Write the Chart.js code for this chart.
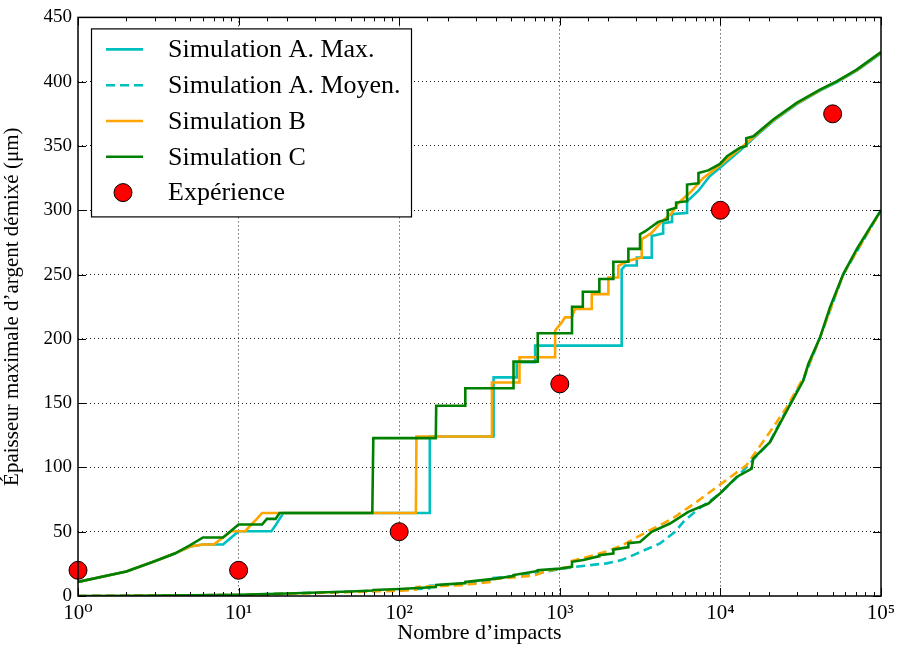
<!DOCTYPE html>
<html>
<head>
<meta charset="utf-8">
<script src="https://cdn.jsdelivr.net/npm/chart.js@4/dist/chart.umd.min.js"></script>
<style>
  html, body { margin: 0; padding: 0; background: #fff; }
  #wrap { width: 897px; height: 648px; }
</style>
</head>
<body>
<div id="wrap"><canvas id="chart" width="897" height="648"></canvas></div>
<script>
// Simulation A, max (cyan solid)
const simAMaxX = [1, 2, 3, 4, 5, 6, 7, 8, 9, 10, 16, 17, 18, 19, 154, 155, 386, 387, 538, 539, 701, 702, 2427, 2428, 2550, 3015, 3016, 3736, 3737, 4400, 4401, 5000, 5001, 6200, 6201, 7280, 8500, 9940, 13250, 16040, 21340, 29850, 41700, 52970, 70600, 100000];
const simAMaxY = [11, 19, 27, 33, 38.5, 40, 40, 40, 45.5, 50.4, 50.4, 55, 60, 64.6, 64.6, 124, 124, 170, 170, 181.8, 181.8, 194.7, 194.7, 254, 257, 257, 263.2, 263.2, 280, 282, 290, 291, 297, 298, 307, 315, 326, 333, 346.5, 356, 369.5, 382.5, 393, 399.5, 408.5, 422];

// Simulation A, mean (cyan dashed)
const simAMeanX = [1, 10, 100, 154, 155, 300, 386, 387, 700, 1000, 1300, 1958, 2427, 3013, 4207, 5213, 5877, 7116, 9030, 10000, 12630, 16000, 20360, 25880, 33000, 41700, 58200, 100000];
const simAMeanY = [0, 0.8, 4.5, 6, 8, 10, 12, 14, 17, 21, 23, 25.4, 27.9, 33, 40.9, 49.9, 57.6, 66.7, 75.8, 80, 92, 106, 120, 145, 169, 201, 250, 300];

// Simulation B (orange)
const simBMaxX = [1, 2, 3, 4, 5, 6, 7, 8, 9, 11, 12, 13, 14, 127, 128, 377, 378, 560, 561, 934, 935, 1027, 1077, 1186, 1244, 1580, 1581, 2006, 2007, 2314, 2315, 2672, 3236, 3237, 3700, 4300, 5000, 5400, 6500, 7800, 9940, 13250, 21340, 29850, 41700, 52970, 70600, 100000];
const simBMaxY = [11, 19, 27, 33, 38.5, 40, 40, 45.5, 50.4, 50.4, 55.6, 60, 64.6, 64.6, 124, 124, 166, 166, 185.7, 185.7, 206.4, 212.8, 216.7, 216.7, 223.2, 223.2, 234.8, 234.8, 247.7, 247.7, 256.8, 260.7, 263.2, 277.5, 282, 291, 298, 305, 314, 325, 335, 348, 370, 383, 393.5, 400, 409, 422.5];
const simBMeanX = [1, 10, 100, 127, 128, 250, 377, 378, 700, 800, 1000, 1150, 1160, 1500, 2000, 2500, 3475, 5000, 7116, 9500, 14500, 21340, 25880, 33000, 41700, 58200, 100000];
const simBMeanY = [0, 0.8, 4, 5, 7, 8.5, 11, 13, 16, 19, 21.5, 22.5, 27, 30.5, 35, 40, 49.9, 60, 73.2, 84.8, 101.6, 131.3, 146.9, 170, 201, 250.3, 300];

// Simulation C (green)
const simCMaxX = [1, 2, 3, 4, 5, 6, 8, 10, 14, 15, 17, 18, 68, 69, 169, 170, 257, 258, 514, 515, 728, 729, 1191, 1192, 1390, 1391, 1762, 1763, 2154, 2155, 2672, 2673, 3158, 3159, 3390, 4100, 4700, 4701, 5300, 5301, 6200, 6201, 7300, 7301, 8400, 9940, 11000, 13250, 14500, 14501, 16040, 21340, 29850, 41700, 52970, 70600, 100000];
const simCMaxY = [11, 19, 27, 33, 39.5, 45.5, 45.5, 55.6, 55.6, 60, 60, 64.6, 64.6, 122.8, 122.8, 148, 148, 161.6, 161.6, 182.3, 182.3, 204.3, 204.3, 225, 225, 236.6, 236.6, 246.5, 246.5, 260, 260, 270, 270, 281.4, 283.5, 291, 293, 300, 302, 306, 307, 320, 321, 329, 331, 336, 342, 348.6, 350, 356, 357.6, 370.6, 383.5, 393.9, 400.3, 409.4, 423];
const simCMeanX = [1, 2, 5, 10, 20, 50, 68, 69, 100, 169, 170, 257, 258, 400, 514, 515, 728, 729, 1000, 1191, 1192, 1400, 1762, 1763, 2154, 2155, 2672, 2673, 3158, 3733, 4853, 6310, 8410, 9940, 12630, 15660, 16000, 20360, 25880, 32840, 35260, 41700, 48100, 58200, 70600, 85400, 100000];
const simCMeanY = [0, 0.1, 0.5, 1, 2, 3.5, 4.3, 4.7, 5.5, 7, 8.5, 10, 11, 13.5, 15.5, 16.3, 19.5, 20, 21.3, 22.8, 26.6, 28, 31, 31.8, 33, 36, 38, 41, 42, 49.9, 56.4, 65.4, 71.9, 79.7, 92.6, 99, 106.8, 119.7, 144, 167.6, 180.5, 201, 224.5, 250.3, 269.7, 286.5, 300];

// Experiment
const expX = [1, 10, 100, 1000, 10000, 50000];
const expY = [20, 20, 50, 165, 300, 375];

const xTickLabels = ['10⁰', '10¹', '10²', '10³', '10⁴', '10⁵'];
const yTicks = [0, 50, 100, 150, 200, 250, 300, 350, 400, 450];

const CYAN = '#00bfbf';
const ORANGE = '#ffa500';
const GREEN = '#008000';
const SERIF = '"Liberation Serif", "DejaVu Serif", serif';
const DOTS = [1, 3];

const toPoints = (xs, ys) => xs.map((x, i) => ({ x: x, y: ys[i] }));
const isPow10 = (v) => Math.abs(Math.log10(v) - Math.round(Math.log10(v))) < 1e-9;

function lineSet(label, xs, ys, color, dash, order, inLegend) {
    return {
        label: label,
        data: toPoints(xs, ys),
        borderColor: color,
        backgroundColor: color,
        borderWidth: 2.6,
        borderDash: dash,
        pointRadius: 0,
        tension: 0,
        order: order,
        inLegend: inLegend
    };
}

// border box, inward ticks (matplotlib classic look)
const frame = {
    id: 'frame',
    afterDatasetsDraw(chart) {
        const { ctx, chartArea: a, scales } = chart;
        ctx.save();
        ctx.strokeStyle = '#000';
        ctx.lineWidth = 1;
        scales.x.ticks.forEach(t => {
            const px = Math.round(scales.x.getPixelForValue(t.value)) + 0.5;
            const len = isPow10(t.value) ? 8 : 4;
            ctx.beginPath();
            ctx.moveTo(px, a.bottom); ctx.lineTo(px, a.bottom - len);
            ctx.moveTo(px, a.top); ctx.lineTo(px, a.top + len);
            ctx.stroke();
        });
        scales.y.ticks.forEach(t => {
            const py = Math.round(scales.y.getPixelForValue(t.value)) + 0.5;
            ctx.beginPath();
            ctx.moveTo(a.left, py); ctx.lineTo(a.left + 8, py);
            ctx.moveTo(a.right, py); ctx.lineTo(a.right - 8, py);
            ctx.stroke();
        });
        ctx.lineWidth = 1.5;
        ctx.strokeRect(a.left, a.top, a.right - a.left, a.bottom - a.top);
        ctx.restore();
    }
};

// framed legend in the upper left corner
const boxLegend = {
    id: 'boxLegend',
    afterDraw(chart) {
        const { ctx, chartArea: a } = chart;
        const items = chart.data.datasets.filter(d => d.inLegend);
        const left = a.left + 13, top = a.top + 11;
        ctx.save();
        ctx.fillStyle = '#fff';
        ctx.fillRect(left, top, 320, 188);
        ctx.strokeStyle = '#000';
        ctx.lineWidth = 1.2;
        ctx.strokeRect(left + 0.5, top + 0.5, 320, 188);
        ctx.font = '26px ' + SERIF;
        ctx.textBaseline = 'middle';
        items.forEach((d, i) => {
            const y = top + 21 + i * 35.8;
            if (d.showLine === false) {
                ctx.beginPath();
                ctx.arc(left + 32, y, 9, 0, Math.PI * 2);
                ctx.fillStyle = d.backgroundColor;
                ctx.fill();
                ctx.lineWidth = 1;
                ctx.strokeStyle = '#000';
                ctx.stroke();
            } else {
                ctx.beginPath();
                ctx.setLineDash(d.borderDash || []);
                ctx.strokeStyle = d.borderColor;
                ctx.lineWidth = 2.6;
                ctx.moveTo(left + 15, y);
                ctx.lineTo(left + 52, y);
                ctx.stroke();
                ctx.setLineDash([]);
            }
            ctx.fillStyle = '#000';
            ctx.fillText(d.label, left + 77, y + 1);
        });
        ctx.restore();
    }
};

new Chart(document.getElementById('chart'), {
    type: 'line',
    data: {
        datasets: [
            lineSet('Simulation A. Max.', simAMaxX, simAMaxY, CYAN, [], 5, true),
            lineSet('Simulation A. Moyen.', simAMeanX, simAMeanY, CYAN, [9, 5], 4, true),
            lineSet('Simulation B', simBMaxX, simBMaxY, ORANGE, [], 3, true),
            lineSet('Simulation B moyen', simBMeanX, simBMeanY, ORANGE, [9, 5], 3, false),
            lineSet('Simulation C', simCMaxX, simCMaxY, GREEN, [], 1, true),
            lineSet('Simulation C moyen', simCMeanX, simCMeanY, GREEN, [], 1, false),
            {
                label: 'Expérience',
                data: toPoints(expX, expY),
                showLine: false,
                pointRadius: 9,
                pointBackgroundColor: '#ff0000',
                backgroundColor: '#ff0000',
                pointBorderColor: '#000',
                pointBorderWidth: 1,
                order: 0,
                inLegend: true,
                clip: false
            }
        ]
    },
    options: {
        responsive: false,
        animation: false,
        events: [],
        layout: { padding: { top: 16, right: 16, left: 0, bottom: 0 } },
        plugins: { legend: { display: false }, tooltip: { enabled: false } },
        scales: {
            x: {
                type: 'logarithmic',
                min: 1,
                max: 100000,
                afterFit(scale) {
                    scale.height = 52;
                    scale.paddingLeft = 0;
                    scale.paddingRight = 0;
                },
                border: { display: false, dash: DOTS },
                grid: {
                    drawTicks: false,
                    color: (c) => (c.tick && isPow10(c.tick.value) && c.tick.value > 1 && c.tick.value < 100000) ? 'rgba(0,0,0,0.9)' : 'rgba(0,0,0,0)',
                    lineWidth: 1
                },
                ticks: {
                    autoSkip: false,
                    maxRotation: 0,
                    padding: 5,
                    color: '#000',
                    font: { family: SERIF, size: 21 },
                    callback: (v) => isPow10(v) ? xTickLabels[Math.round(Math.log10(v))] : ''
                },
                title: {
                    display: true,
                    text: 'Nombre d’impacts',
                    color: '#000',
                    font: { family: SERIF, size: 22 },
                    padding: { top: 0, bottom: 2 }
                }
            },
            y: {
                min: 0,
                max: 450,
                afterFit(scale) { scale.width = 78; },
                afterBuildTicks(scale) { scale.ticks = yTicks.map(v => ({ value: v })); },
                border: { display: false, dash: DOTS },
                grid: {
                    drawTicks: false,
                    color: (c) => (c.tick && c.tick.value > 0 && c.tick.value < 450) ? 'rgba(0,0,0,0.9)' : 'rgba(0,0,0,0)',
                    lineWidth: 1
                },
                ticks: {
                    padding: 6,
                    color: '#000',
                    font: { family: SERIF, size: 19 }
                },
                title: {
                    display: true,
                    text: 'Épaisseur maximale d’argent démixé (μm)',
                    color: '#000',
                    font: { family: SERIF, size: 21 },
                    padding: { top: 0, bottom: 0 }
                }
            }
        }
    },
    plugins: [frame, boxLegend]
});
</script>
</body>
</html>
